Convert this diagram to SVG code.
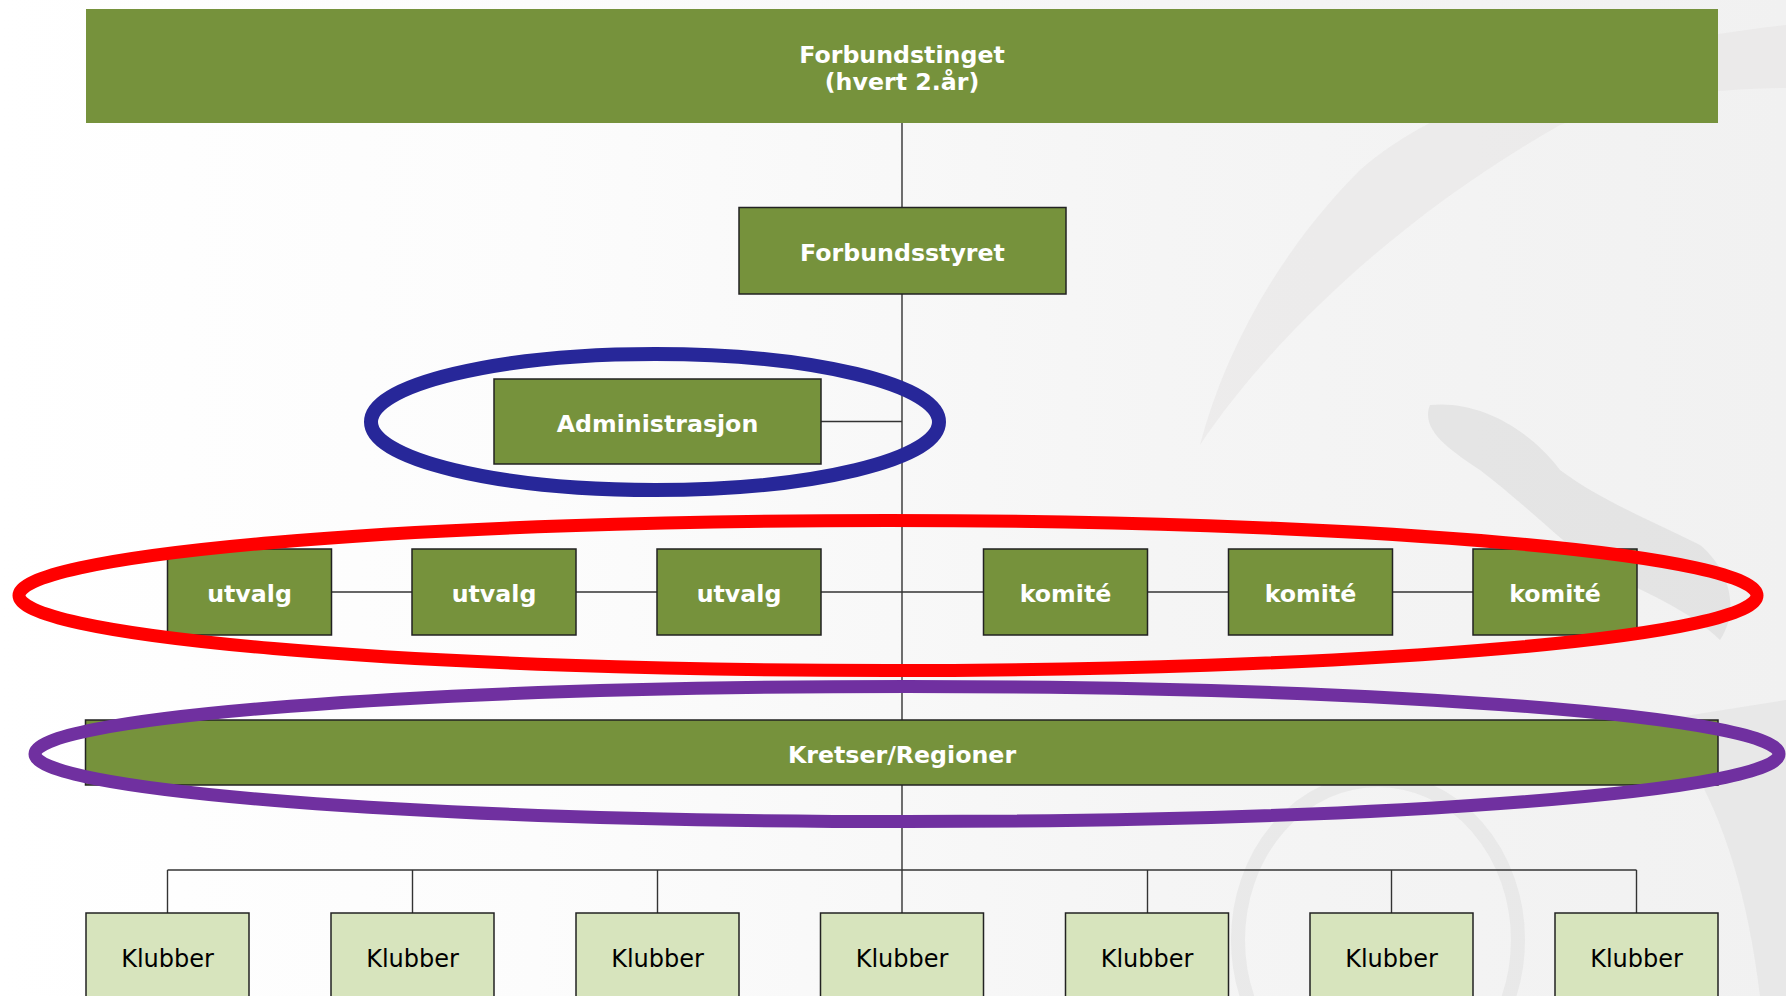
<svg xmlns="http://www.w3.org/2000/svg" width="1786" height="996" viewBox="0 0 1786 996">
  <defs>
    <linearGradient id="bg" x1="0" y1="0" x2="1" y2="0">
      <stop offset="0" stop-color="#FFFFFF"/>
      <stop offset="0.3" stop-color="#FCFCFC"/>
      <stop offset="0.65" stop-color="#F5F5F5"/>
      <stop offset="1" stop-color="#F1F1F1"/>
    </linearGradient>
    <style>
      .dk { fill: #76923C; stroke: #222222; stroke-width: 1.5; }
      .lt { fill: #D7E4BD; stroke: #222222; stroke-width: 1.5; }
      .wt { font-family: "DejaVu Sans", Verdana, sans-serif; font-weight: bold; font-size: 23.7px; fill: #FFFFFF; text-anchor: middle; }
      .bt { font-family: "DejaVu Sans", Verdana, sans-serif; font-size: 24px; fill: #000000; text-anchor: middle; }
      .ln { stroke: #333333; stroke-width: 1.4; fill: none; }
      .ring { fill: none; }
    </style>
  </defs>

  <!-- background -->
  <rect x="0" y="0" width="1786" height="996" fill="url(#bg)"/>
  <g id="watermark">
    <path d="M1786,25 C1600,45 1440,100 1360,170 C1280,250 1225,350 1200,445 C1270,340 1400,215 1560,125 C1640,97 1720,88 1786,88 Z" fill="#E6E3E3" opacity="0.55"/>
    <path d="M1430,405 C1480,400 1530,430 1560,470 C1600,500 1650,520 1700,545 C1730,570 1740,610 1720,640 C1690,610 1640,590 1600,570 C1560,540 1520,500 1480,470 C1450,450 1420,430 1430,405 Z" fill="#CFCFCF" opacity="0.4"/>
    <ellipse cx="1378" cy="940" rx="140" ry="160" fill="none" stroke="#DADADA" stroke-width="14" opacity="0.4"/>
    <path d="M1660,720 C1710,780 1745,870 1760,996 L1786,996 L1786,700 Z" fill="#D8D8D8" opacity="0.35"/>
  </g>

  <!-- connectors -->
  <g id="connectors">
    <line class="ln" x1="902" y1="123" x2="902" y2="913"/>
    <line class="ln" x1="821" y1="421.5" x2="902" y2="421.5"/>
    <line class="ln" x1="331" y1="592" x2="1473" y2="592"/>
    <line class="ln" x1="167.5" y1="870" x2="1636.5" y2="870"/>
    <line class="ln" x1="167.5" y1="870" x2="167.5" y2="913"/>
    <line class="ln" x1="412.5" y1="870" x2="412.5" y2="913"/>
    <line class="ln" x1="657.5" y1="870" x2="657.5" y2="913"/>
    <line class="ln" x1="1147.5" y1="870" x2="1147.5" y2="913"/>
    <line class="ln" x1="1391.5" y1="870" x2="1391.5" y2="913"/>
    <line class="ln" x1="1636.5" y1="870" x2="1636.5" y2="913"/>
  </g>

  <!-- nodes -->
  <g id="forbundstinget">
    <rect x="86" y="9" width="1632" height="114" fill="#76923C"/>
    <text class="wt" x="902" y="62.5">Forbundstinget</text>
    <text class="wt" x="902" y="90">(hvert 2.år)</text>
  </g>
  <g id="forbundsstyret">
    <rect class="dk" x="739" y="207.5" width="327" height="86.5"/>
    <text class="wt" x="902.5" y="261">Forbundsstyret</text>
  </g>
  <g id="administrasjon">
    <rect class="dk" x="494" y="379" width="327" height="85"/>
    <text class="wt" x="657.5" y="432">Administrasjon</text>
  </g>
  <g id="utvalg1">
    <rect class="dk" x="167.5" y="549" width="164" height="86"/>
    <text class="wt" x="249.5" y="602">utvalg</text>
  </g>
  <g id="utvalg2">
    <rect class="dk" x="412" y="549" width="164" height="86"/>
    <text class="wt" x="494" y="602">utvalg</text>
  </g>
  <g id="utvalg3">
    <rect class="dk" x="657" y="549" width="164" height="86"/>
    <text class="wt" x="739" y="602">utvalg</text>
  </g>
  <g id="komite1">
    <rect class="dk" x="983.5" y="549" width="164" height="86"/>
    <text class="wt" x="1065.5" y="602">komité</text>
  </g>
  <g id="komite2">
    <rect class="dk" x="1228.5" y="549" width="164" height="86"/>
    <text class="wt" x="1310.5" y="602">komité</text>
  </g>
  <g id="komite3">
    <rect class="dk" x="1473" y="549" width="164" height="86"/>
    <text class="wt" x="1555" y="602">komité</text>
  </g>
  <g id="kretser">
    <rect class="dk" x="85.5" y="720" width="1632.5" height="65"/>
    <text class="wt" x="902" y="763">Kretser/Regioner</text>
  </g>
  <g id="klubber1">
    <rect class="lt" x="86" y="913" width="163" height="100"/>
    <text class="bt" x="167.5" y="967">Klubber</text>
  </g>
  <g id="klubber2">
    <rect class="lt" x="331" y="913" width="163" height="100"/>
    <text class="bt" x="412.5" y="967">Klubber</text>
  </g>
  <g id="klubber3">
    <rect class="lt" x="576" y="913" width="163" height="100"/>
    <text class="bt" x="657.5" y="967">Klubber</text>
  </g>
  <g id="klubber4">
    <rect class="lt" x="820.5" y="913" width="163" height="100"/>
    <text class="bt" x="902" y="967">Klubber</text>
  </g>
  <g id="klubber5">
    <rect class="lt" x="1065.5" y="913" width="163" height="100"/>
    <text class="bt" x="1147" y="967">Klubber</text>
  </g>
  <g id="klubber6">
    <rect class="lt" x="1310" y="913" width="163" height="100"/>
    <text class="bt" x="1391.5" y="967">Klubber</text>
  </g>
  <g id="klubber7">
    <rect class="lt" x="1555" y="913" width="163" height="100"/>
    <text class="bt" x="1636.5" y="967">Klubber</text>
  </g>

  <!-- highlight rings -->
  <g id="highlights">
    <ellipse id="ring-admin" class="ring" cx="655" cy="422" rx="284" ry="68" stroke="#272799" stroke-width="14"/>
    <ellipse id="ring-utvalg" class="ring" cx="888" cy="595.5" rx="869" ry="75" stroke="#FF0000" stroke-width="13"/>
    <ellipse id="ring-kretser" class="ring" cx="907" cy="754" rx="872" ry="67.5" stroke="#7030A0" stroke-width="13"/>
  </g>
</svg>
